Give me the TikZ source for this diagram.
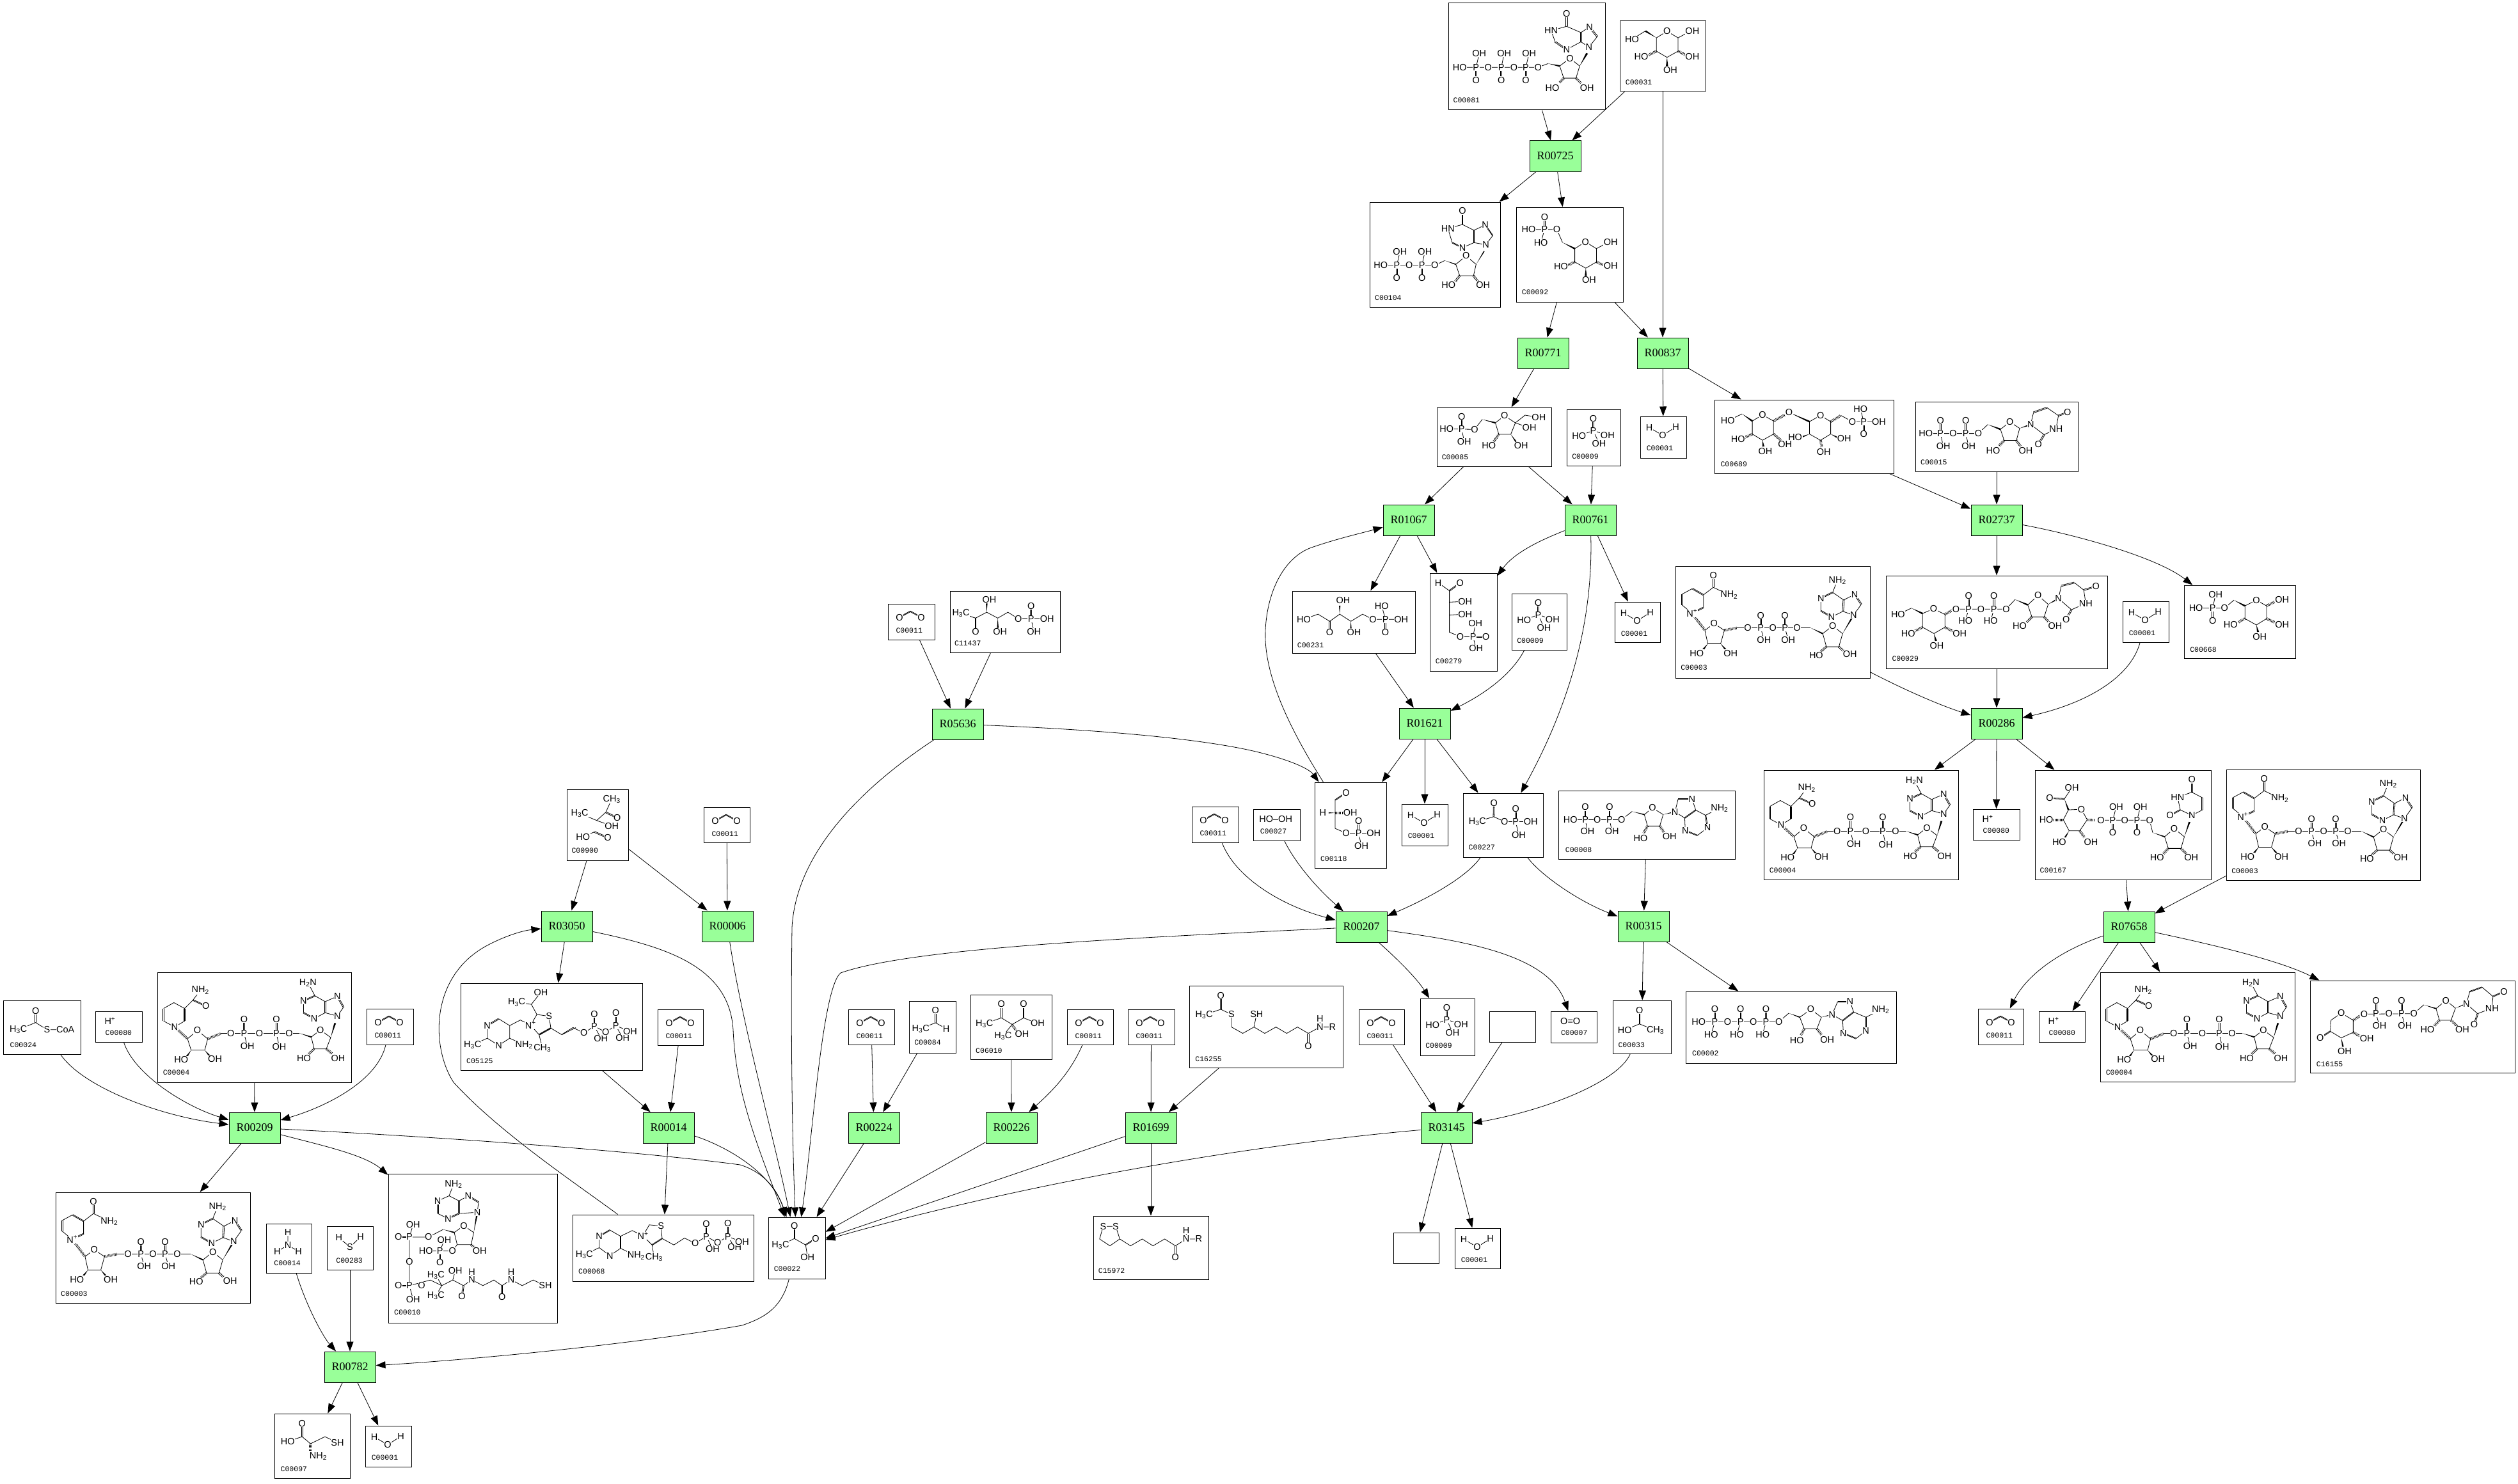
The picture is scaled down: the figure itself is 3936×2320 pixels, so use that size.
\documentclass[tikz,border=0pt]{standalone}
\usepackage{fontspec}
\setmainfont{Liberation Sans}
\newfontfamily\rxnfont{Liberation Serif}
\newfontfamily\lblfont{Liberation Mono}
\usetikzlibrary{arrows.meta,calc}
\definecolor{rgreen}{RGB}{153,255,153}
\tikzset{
 cmp/.style={draw=black,line width=1pt,fill=white,inner sep=0pt},
 rxn/.style={draw=black,line width=1pt,fill=rgreen,inner sep=0pt,minimum width=80pt,minimum height=48pt,font=\rxnfont\fontsize{18}{20}\selectfont},
 edge/.style={draw=black,line width=.8pt,-{Triangle[length=15pt,width=11pt]}},
 bond/.style={draw=black,line width=.8pt},
 atom/.style={fill=white,inner sep=.5pt,font=\fontsize{14.5}{15}\selectfont},
 lbl/.style={anchor=west,inner sep=0pt,font=\lblfont\fontsize{11.5}{12}\selectfont},
}
\newcommand\Cb[5]{\node[cmp,minimum width={#4-#2},minimum height={#5-#3}] (#1) at ({(#2+#4)/2},{(#3+#5)/2}) {};}
\newcommand\Rx[4]{\node[rxn] (#1) at (#2,#3) {#4};}
\newcommand\Ln[1]{\draw[bond] #1;}
\newcommand\Db[1]{\foreach \xa/\ya/\xb/\yb in {#1}{%
 \draw[bond] ($(\xa,\ya)!1.7pt!90:(\xb,\yb)$)--($(\xb,\yb)!1.7pt!-90:(\xa,\ya)$);
 \draw[bond] ($(\xa,\ya)!1.7pt!-90:(\xb,\yb)$)--($(\xb,\yb)!1.7pt!90:(\xa,\ya)$);}}
\newcommand\Wd[1]{\foreach \xa/\ya/\xb/\yb in {#1}{%
 \fill[black] (\xa,\ya)--($(\xb,\yb)!2.6pt!90:(\xa,\ya)$)--($(\xb,\yb)!2.6pt!-90:(\xa,\ya)$)--cycle;}}
\newcommand\Hs[1]{\foreach \xa/\ya/\xb/\yb in {#1}{%
 \draw[black,line width=4pt,dash pattern=on .8pt off 1.3pt] (\xa,\ya)--(\xb,\yb);}}
\newcommand\At[1]{\foreach \mx/\my/\mt [count=\mi] in {#1}{\node[atom] (atom\mi) at (\mx,\my) {\mt};}}
\newcommand\Lb[3]{\node[lbl] (lab#3) at (#1,#2) {#3};}
\newcommand\Mol[7]{\begin{scope}[shift={({#1-#3*#5},{#2-#4*#6})},xscale=#3,yscale=#4]#7\end{scope}}
\newcommand\HHC{H\textsubscript{3}C}
\newcommand\CHH{CH\textsubscript{3}}
\newcommand\NHH{NH\textsubscript{2}}
\newcommand\HNN{H\textsubscript{2}N}
\newcommand\NP{N\textsuperscript{+}}
% repeated molecules
\newcommand\water[2]{\Mol{#1}{#2}{.638}{.4847}{570}{1344}{%
 \Ln{(592,1380)--(625,1405)--(657,1378)}
 \At{592/1380/H,625/1405/O,657/1378/H}\Lb{585}{1447}{C00001}}}
\newcommand\cotwo[2]{\Mol{#1}{#2}{.3333}{.357}{532}{217}{%
 \Db{586/276/637/250,637/250/688/276}
 \At{586/276/O,688/276/O}\Lb{569}{333}{C00011}}}
\newcommand\hplus[2]{\Mol{#1}{#2}{.574}{.3954}{260}{256}{%
 \At{300/295/H\textsuperscript{+}}\Lb{287}{342}{C00080}}}
\newcommand\phos[2]{\Mol{#1}{#2}{.4464}{.4464}{1117}{44}{%
 \Db{1210/118/1210/76}\Ln{(1160,137)--(1210,118)--(1260,135) (1210,118)--(1230,163)}
 \At{1210/118/P,1210/76/O,1160/137/HO,1260/135/OH,1230/163/OH}\Lb{1135}{208}{C00009}}}
\newcommand\nadp[2]{\Mol{#1}{#2}{.574}{.3954}{152}{971}{%
 \Db{255/1008/255/1055,198/1060/228/1085,228/1135/197/1157,170/1125/170/1082}
 \Ln{(298,1085)--(255,1055)--(228,1085)--(228,1135) (197,1157)--(170,1125) (170,1082)--(198,1060)}
 \Hs{197/1157/232/1225}
 \Ln{(232,1225)--(257,1198)--(285,1225)--(275,1278)--(240,1278)--cycle}
 \Wd{240/1278/228/1300,275/1278/288/1300}
 \Hs{285/1225/320/1215}
 \Ln{(320,1215)--(483,1215)--(520,1215)}
 \Db{384/1215/384/1167,450/1215/450/1167}
 \Ln{(384,1215)--(393,1262) (450,1215)--(459,1262)}
 \Wd{520/1215/553/1238}
 \Ln{(553,1238)--(580,1207)--(607,1238)--(597,1290)--(563,1290)--cycle}
 \Hs{563/1290/547/1310,597/1290/612/1310}
 \Wd{607/1238/637/1165}
 \Ln{(637,1165)--(658,1122) (640,1083)--(610,1105) (608,1150)--(637,1165) (610,1105)--(580,1075)--(593,1027) (548,1098)--(548,1148) (577,1172)--(608,1150)}
 \Db{658/1122/640/1083,610/1105/608/1150,580/1075/548/1098,548/1148/577/1172}
 \At{255/1008/O,298/1085/\NHH,197/1157/\NP,257/1198/O,210/1315/HO,302/1315/OH,349/1215/O,384/1215/P,417/1215/O,450/1215/P,483/1215/O,384/1167/O,450/1167/O,393/1262/OH,459/1262/OH,580/1207/O,535/1323/HO,627/1320/OH,637/1165/N,640/1083/N,593/1027/\NHH,548/1098/N,577/1172/N}
 \Lb{166}{1373}{C00003}}}
\newcommand\nadh[2]{\Mol{#1}{#2}{.574}{.3954}{428}{102}{%
 \Db{525/212/560/235,445/295/445/245}
 \Ln{(545,173)--(525,212)--(502,245)--(502,295)--(475,318)--(445,295) (445,245)--(473,222)--(502,245)}
 \Db{502/245/502/295}
 \Hs{475/318/510/365}
 \Ln{(510,365)--(537,332)--(565,365)--(557,410)--(520,410)--cycle}
 \Wd{520/410/508/435,557/410/570/432}
 \Hs{565/365/600/345}
 \Ln{(600,343)--(815,343)}
 \Db{664/343/664/287,752/343/752/287}
 \Ln{(664,343)--(673,395) (752,343)--(760,397)}
 \Wd{815/343/847/358}
 \Ln{(847,358)--(872,330)--(900,360)--(888,405)--(855,405)--cycle}
 \Hs{855/405/840/425,888/405/905/425}
 \Wd{900/360/912/303}
 \Ln{(918,275)--(935,240) (918,197)--(885,218) (885,262)--(918,275) (885,218)--(857,195)--(838,143) (826,215)--(826,262) (855,285)--(885,262)}
 \Db{935/240/918/197,885/218/885/262,857/195/826/215,826/262/855/285}
 \At{560/235/O,545/173/\NHH,475/318/N,537/332/O,493/447/HO,585/445/OH,628/343/O,664/343/P,706/343/O,752/343/P,787/343/O,664/287/O,752/287/O,673/395/OH,760/397/OH,872/330/O,827/443/HO,920/443/OH,918/275/N,918/197/N,838/143/\HNN,826/215/N,855/285/N}
 \Lb{443}{498}{C00004}}}
\begin{document}
\begin{tikzpicture}[x=1pt,y=-1pt]
\useasboundingbox (0,0) rectangle (3936,2320);
\fill[white] (0,0) rectangle (3936,2320);
% compounds
\Cb{c081}{2264}{5}{2509}{172}\Cb{c031}{2532}{33}{2666}{143}\Cb{c104}{2141}{316}{2345}{480}
\Cb{c092}{2370}{324}{2537}{472}\Cb{c085}{2246}{637}{2425}{729}\Cb{c009a}{2449}{640}{2533}{728}
\Cb{c001a}{2564}{651}{2636}{716}\Cb{c689}{2680}{625}{2960}{740}\Cb{c015}{2994}{628}{3248}{737}
\Cb{c231}{2020}{924}{2212}{1021}\Cb{c279}{2235}{896}{2340}{1049}\Cb{c009b}{2363}{928}{2449}{1016}
\Cb{c001b}{2524}{941}{2595}{1004}\Cb{c003a}{2619}{885}{2923}{1060}\Cb{c029}{2948}{900}{3294}{1045}
\Cb{c001c}{3318}{940}{3390}{1004}\Cb{c668}{3414}{915}{3588}{1029}
\Cb{c011a}{1388}{944}{1461}{1000}\Cb{c437}{1485}{924}{1657}{1020}
\Cb{c900}{886}{1234}{982}{1345}\Cb{c011b}{1100}{1262}{1172}{1317}
\Cb{c011c}{1863}{1261}{1936}{1317}\Cb{c027}{1959}{1265}{2032}{1314}\Cb{c118}{2055}{1223}{2167}{1357}
\Cb{c001d}{2191}{1257}{2263}{1322}\Cb{c227}{2287}{1240}{2412}{1340}\Cb{c008}{2436}{1236}{2712}{1343}
\Cb{c004a}{2757}{1204}{3061}{1375}\Cb{c080a}{3084}{1265}{3157}{1313}\Cb{c167}{3181}{1204}{3456}{1375}
\Cb{c003b}{3480}{1203}{3783}{1376}
\Cb{c024}{5}{1564}{126}{1648}\Cb{c080b}{149}{1581}{222}{1629}\Cb{c004b}{246}{1520}{549}{1692}
\Cb{c011d}{573}{1577}{646}{1633}\Cb{c125}{720}{1537}{1004}{1673}\Cb{c011e}{1028}{1578}{1099}{1634}
\Cb{c011f}{1326}{1578}{1398}{1633}\Cb{c084}{1421}{1565}{1494}{1646}\Cb{c010b}{1517}{1555}{1644}{1656}
\Cb{c011g}{1668}{1578}{1740}{1633}\Cb{c011h}{1763}{1578}{1836}{1633}\Cb{c255}{1859}{1541}{2099}{1669}
\Cb{c011i}{2124}{1578}{2195}{1633}\Cb{c009c}{2220}{1561}{2305}{1650}\Cb{e1}{2328}{1581}{2400}{1629}
\Cb{c007}{2424}{1581}{2496}{1630}\Cb{c033}{2521}{1564}{2612}{1647}\Cb{c002}{2635}{1550}{2964}{1662}
\Cb{c011j}{3092}{1577}{3163}{1633}\Cb{c080c}{3187}{1581}{3259}{1629}\Cb{c004c}{3283}{1520}{3587}{1691}
\Cb{c155}{3611}{1533}{3931}{1677}
\Cb{c003c}{87}{1864}{391}{2037}\Cb{c014}{416}{1913}{487}{1990}\Cb{c283}{511}{1917}{583}{1985}
\Cb{c010}{607}{1835}{871}{2068}\Cb{c068}{895}{1899}{1178}{2003}\Cb{c022}{1201}{1903}{1290}{1999}
\Cb{c972}{1709}{1901}{1889}{2000}\Cb{e2}{2178}{1927}{2249}{1975}\Cb{c001e}{2274}{1920}{2345}{1983}
\Cb{c097}{429}{2210}{547}{2311}\Cb{c001f}{571}{2229}{643}{2293}
% reactions
\Rx{r725}{2431}{244}{R00725}\Rx{r771}{2412}{552}{R00771}\Rx{r837}{2599}{552}{R00837}
\Rx{r1067}{2202}{813}{R01067}\Rx{r761}{2486}{813}{R00761}\Rx{r2737}{3121}{813}{R02737}
\Rx{r1621}{2227}{1131}{R01621}\Rx{r286}{3121}{1131}{R00286}\Rx{r5636}{1497}{1132}{R05636}
\Rx{r207}{2128}{1449}{R00207}\Rx{r315}{2569}{1448}{R00315}\Rx{r7658}{3328}{1449}{R07658}
\Rx{r3050}{886}{1448}{R03050}\Rx{r6}{1137}{1448}{R00006}
\Rx{r209}{398}{1763}{R00209}\Rx{r14}{1045}{1763}{R00014}\Rx{r224}{1366}{1763}{R00224}
\Rx{r226}{1581}{1763}{R00226}\Rx{r1699}{1799}{1763}{R01699}\Rx{r3145}{2261}{1763}{R03145}
\Rx{r782}{547}{2137}{R00782}
% connectors
\foreach \p/\q in {c081/r725,c031/r725,r725/c104,r725/c092,c092/r771,c092/r837,r771/c085,r837/c001a,r837/c689,
 c085/r1067,c085/r761,c009a/r761,c689/r2737,c015/r2737,r2737/c029,r1067/c231,r1067/c279,r761/c001b,
 c231/r1621,r1621/c118,r1621/c001d,r1621/c227,c029/r286,r286/c004a,r286/c080a,r286/c167,
 c011a/r5636,c437/r5636,c900/r3050,c900/r6,c011b/r6,r3050/c125,c125/r14,c011e/r14,r14/c068,
 c008/r315,r315/c033,r315/c002,c003b/r7658,c167/r7658,r7658/c080c,r7658/c004c,
 c004b/r209,r209/c003c,c283/r782,r782/c097,r782/c001f,c011f/r224,c084/r224,c010b/r226,c011h/r1699,c255/r1699,r1699/c972,
 c011i/r3145,e1/r3145,r3145/e2,r3145/c001e,r224/c022,r226/c022,r1699/c022}
 {\draw[edge] (\p)--(\q);}
\draw[edge] (c031)--(r837);
\draw[edge] (c014) .. controls (478,2040) and (505,2090) .. (r782);
\draw[edge] (r2737) .. controls (3240,835) and (3370,870) .. (c668);
\draw[edge] (r761) .. controls (2420,840) and (2370,860) .. (c279);
\draw[edge] (r761) .. controls (2490,960) and (2460,1090) .. (c227);
\draw[edge] (c009b) .. controls (2360,1060) and (2310,1090) .. (r1621);
\draw[edge] (c118) .. controls (2010,1130) and (1975,1050) .. (1978,985) .. controls (1981,920) and (2010,870) .. (2050,856) .. controls (2090,842) and (2130,833) .. (r1067);
\draw[edge] (r5636) .. controls (1750,1142) and (1900,1158) .. (1975,1178) .. controls (2010,1187) and (2045,1200) .. (c118);
\draw[edge] (r5636) .. controls (1370,1216) and (1245,1320) .. (1238,1450) .. controls (1236,1600) and (1238,1780) .. (c022);
\draw[edge] (r3050) .. controls (1040,1480) and (1140,1510) .. (1146,1610) .. controls (1150,1700) and (1175,1770) .. (c022);
\draw[edge] (r6) .. controls (1160,1600) and (1210,1780) .. (c022);
\draw[edge] (r207) .. controls (1800,1465) and (1430,1480) .. (1314,1521) .. controls (1285,1545) and (1270,1780) .. (c022);
\draw[edge] (r3145) .. controls (1950,1790) and (1600,1850) .. (c022);
\draw[edge] (r209) .. controls (700,1778) and (1000,1800) .. (1157,1821) .. controls (1195,1833) and (1215,1860) .. (c022);
\draw[edge] (r14) .. controls (1130,1790) and (1205,1830) .. (c022);
\draw[edge] (c068) .. controls (900,1850) and (780,1770) .. (709,1692) .. controls (675,1640) and (670,1530) .. (758,1480) .. controls (785,1465) and (815,1455) .. (r3050);
\draw[edge] (c024) .. controls (130,1700) and (250,1745) .. (r209);
\draw[edge] (c080b) .. controls (210,1680) and (290,1730) .. (r209);
\draw[edge] (c011d) .. controls (590,1690) and (510,1730) .. (r209);
\draw[edge] (r209) .. controls (500,1790) and (570,1805) .. (c010);
\draw[edge] (c022) .. controls (1222,2045) and (1195,2060) .. (1160,2072) .. controls (1000,2100) and (750,2125) .. (r782);
\draw[edge] (c011g) .. controls (1672,1680) and (1640,1710) .. (r226);
\draw[edge] (c033) .. controls (2530,1690) and (2420,1735) .. (r3145);
\draw[edge] (c011c) .. controls (1930,1370) and (2000,1415) .. (r207);
\draw[edge] (c027) .. controls (2025,1350) and (2060,1390) .. (r207);
\draw[edge] (c227) .. controls (2290,1375) and (2220,1410) .. (r207);
\draw[edge] (c227) .. controls (2410,1370) and (2470,1410) .. (r315);
\draw[edge] (r207) .. controls (2185,1500) and (2215,1530) .. (c009c);
\draw[edge] (r207) .. controls (2280,1470) and (2420,1490) .. (c007);
\draw[edge] (c003a) .. controls (2990,1085) and (3040,1105) .. (r286);
\draw[edge] (c001c) .. controls (3330,1060) and (3260,1100) .. (r286);
\draw[edge] (r7658) .. controls (3210,1490) and (3165,1530) .. (c011j);
\draw[edge] (r7658) .. controls (3450,1475) and (3560,1500) .. (c155);
% repeated molecules
\water{2564}{651}\water{2524}{941}\water{3318}{940}\water{2191}{1257}\water{2274}{1920}\water{571}{2229}
\cotwo{1388}{944}\cotwo{1100}{1262}\cotwo{1863}{1261}\cotwo{573}{1577}\cotwo{1028}{1578}\cotwo{1326}{1578}
\cotwo{1668}{1578}\cotwo{1763}{1578}\cotwo{2124}{1578}\cotwo{3092}{1577}
\hplus{3084}{1265}\hplus{149}{1581}\hplus{3187}{1581}
\phos{2449}{640}\phos{2363}{928}\phos{2220}{1561}
\nadp{2619}{885}\nadp{3480}{1203}\nadp{87}{1864}
\nadh{2757}{1204}\nadh{246}{1520}\nadh{3283}{1520}
% C00081
\Mol{2200}{0}{.638}{.4847}{0}{0}{%
 \Ln{(128,217)--(320,217)--(345,205) (168,217)--(176,173) (230,217)--(237,173) (290,217)--(298,173)}
 \Db{168/217/168/258,230/217/230/258,290/217/290/258}
 \Wd{345/205/373/213}
 \Ln{(373,213)--(398,188)--(422,213)--(413,252)--(383,252)--cycle}
 \Hs{383/252/372/268,413/252/425/268}
 \Wd{422/213/440/172}
 \Ln{(390,85)--(352,99) (362,135)--(352,99) (390,160)--(425,135) (425,135)--(445,152)--(465,118) (446,87)--(425,105) (425,105)--(390,85)}
 \Db{390/44/390/85,362/135/390/160,425/135/425/105,465/118/446/87}
 \At{128/217/HO,168/217/P,198/217/O,230/217/P,261/217/O,290/217/P,320/217/O,176/173/OH,237/173/OH,298/173/OH,168/258/O,230/258/O,290/258/O,398/188/O,355/283/HO,440/283/OH,445/152/N,446/87/N,390/44/O,352/99/HN,390/160/N}
 \Lb{112}{324}{C00081}}
% C00031
\Mol{2200}{0}{.638}{.4847}{0}{0}{%
 \Ln{(636,101)--(663,122)--(663,165)--(636,185)--(610,165)--(610,122)--cycle}
 \Wd{610/122/583/100}\Ln{(583,100)--(550,127) (663,122)--(683,108)}
 \Hs{610/165/590/178,663/165/683/178}\Wd{636/185/636/212}
 \At{636/101/O,550/127/HO,698/101/OH,573/183/HO,698/183/OH,644/225/OH}\Lb{534}{266}{C00031}}
% C00104
\Mol{2130}{300}{.3333}{.3333}{0}{0}{%
 \Ln{(85,345)--(338,345)--(385,322) (160,345)--(175,280) (278,345)--(292,280)}
 \Db{160/345/160/403,278/345/278/403}
 \Wd{385/322/437/340}
 \Ln{(437,340)--(485,300)--(532,340)--(520,393)--(455,393)--cycle}
 \Hs{455/393/435/420,520/393/540/420}\Wd{532/340/570/278}
 \Ln{(468,153)--(400,172)--(420,238) (468,262)--(522,238)--(578,248)--(610,205) (575,155)--(522,180)--(468,153)}
 \Db{468/90/468/153,420/238/468/262,522/238/522/180,610/205/575/155}
 \At{85/345/HO,160/345/P,218/345/O,278/345/P,338/345/O,175/280/OH,292/280/OH,160/403/O,278/403/O,485/300/O,403/437/HO,565/437/OH,578/248/N,575/155/N,468/90/O,400/172/HN,468/262/N}
 \Lb{57}{498}{C00104}}
% C00092
\Mol{2200}{0}{.638}{.4847}{0}{0}{%
 \Ln{(297,740)--(366,740)--(380,782) (336,740)--(327,782)}\Db{336/740/336/700}
 \Wd{380/782/410/802}
 \Ln{(436,780)--(463,802)--(463,845)--(437,865)--(410,845)--(410,802)--cycle (463,802)--(480,790)}
 \Hs{410/845/392/856,463/845/482/856}\Wd{437/865/437/890}
 \At{297/740/HO,336/740/P,366/740/O,336/700/O,327/782/HO,436/780/O,498/780/OH,376/860/HO,498/858/OH,445/902/OH}\Lb{280}{943}{C00092}}
% C00085, C00231, C00279
\Mol{1950}{620}{.4464}{.4464}{0}{0}{%
 \Ln{(697,113)--(795,115)--(822,80) (750,113)--(759,158)}\Db{750/113/750/70}
 \Wd{822/80/868/92}
 \Ln{(868,92)--(900,67)--(938,92)--(922,132)--(880,132)--cycle (938,92)--(972,65)--(1020,73) (938,92)--(987,109)}
 \Hs{880/132/862/158}\Wd{922/132/940/158}
 \At{697/113/HO,750/113/P,795/115/O,750/70/O,759/158/OH,900/67/O,1020/73/OH,987/109/OH,845/172/HO,958/172/OH}\Lb{680}{213}{C00085}
 \Ln{(197,780)--(247,762)--(288,787)--(323,762)--(362,787)--(403,762)--(439,780)--(538,780) (483,780)--(470,733)}
 \Db{288/787/288/825,483/780/483/825}\Wd{323/762/323/732,362/787/362/812}
 \At{197/780/HO,335/713/OH,288/825/O,373/825/OH,439/780/O,483/780/P,538/780/OH,470/733/HO,483/825/O}\Lb{174}{870}{C00231}
 \Ln{(668,652)--(707,680)--(707,825)--(745,841)--(800,841) (707,720)--(762,717) (707,765)--(762,762) (790,841)--(798,795) (790,841)--(800,882)}
 \Db{707/680/744/653,790/841/835/841}
 \At{668/652/H,744/653/O,762/717/OH,762/762/OH,745/841/O,790/841/P,835/841/O,798/795/OH,800/882/OH}\Lb{658}{927}{C00279}}
% C00118, C00027, C00227
\Mol{1750}{1180}{.4464}{.3337}{0}{0}{%
 \Ln{(755,212)--(755,345)--(793,367)--(890,367) (837,367)--(847,427)}\Db{755/212/793/178,837/367/837/310}
 \Wd{755/272/732/272}\Hs{755/272/780/272}
 \At{793/178/O,712/270/H,808/270/OH,793/367/O,837/367/P,890/367/OH,837/310/O,847/427/OH}\Lb{703}{487}{C00118}
 \At{547/300/HO--OH}\Lb{492}{358}{C00027}
 \Ln{(1253,313)--(1310,290)--(1348,313)--(1440,313) (1387,313)--(1398,375)}\Db{1311/225/1310/290,1387/252/1387/313}
 \At{1253/313/\HHC,1311/225/O,1348/313/O,1387/313/P,1440/313/OH,1387/252/O,1398/375/OH}\Lb{1222}{435}{C00227}}
% ADP, ATP, acetate, O2
\Mol{2400}{1150}{.3827}{.3508}{0}{0}{%
 \Ln{(143,375)--(352,375)--(395,338) (204,375)--(213,427) (303,375)--(313,427)}\Db{204/319/204/375,303/319/303/375}
 \Wd{395/338/445/352}
 \Ln{(445,352)--(478,322)--(522,352)--(508,403)--(458,403)--cycle}
 \Hs{458/403/442/435,508/403/525/430}\Wd{522/352/568/340}
 \Ln{(570,340)--(583,283) (640,283)--(655,332) (610,367)--(570,340) (655,332)--(695,355)--(752,323) (703,410)--(662,445) (612,423)--(610,367)}
 \Db{583/283/640/283,655/332/610/367,695/355/703/410,662/445/612/423}
 \At{143/375/HO,204/375/P,253/375/O,303/375/P,352/375/O,204/319/O,303/319/O,213/427/OH,313/427/OH,478/322/O,430/458/HO,548/448/OH,570/340/N,640/283/N,703/410/N,612/423/N,752/323/\NHH}\Lb{122}{510}{C00008}
 \Ln{(667,1275)--(995,1275)--(1035,1237) (733,1275)--(718,1332) (838,1275)--(823,1332) (942,1275)--(928,1332)}
 \Db{733/1218/733/1275,838/1218/838/1275,942/1218/942/1275}
 \Wd{1035/1237/1080/1255}
 \Ln{(1080,1255)--(1125,1220)--(1168,1255)--(1150,1307)--(1098,1307)--cycle}
 \Hs{1098/1307/1085/1335,1150/1307/1170/1335}\Wd{1168/1255/1212/1243}
 \Ln{(1212,1243)--(1235,1185) (1285,1185)--(1300,1232) (1255,1270)--(1212,1243) (1300,1232)--(1350,1255)--(1410,1222) (1350,1315)--(1310,1350) (1258,1327)--(1255,1270)}
 \Db{1235/1185/1285/1185,1300/1232/1255/1270,1350/1255/1350/1315,1310/1350/1258/1327}
 \At{667/1275/HO,733/1275/P,785/1275/O,838/1275/P,890/1275/O,942/1275/P,995/1275/O,733/1218/O,838/1218/O,942/1218/O,718/1332/HO,823/1332/HO,928/1332/HO,1125/1220/O,1068/1358/HO,1192/1355/OH,1212/1243/N,1285/1185/N,1350/1315/N,1258/1327/N,1410/1222/\NHH}\Lb{640}{1417}{C00002}
 \Ln{(365,1312)--(425,1285)--(490,1313)}\Db{425/1225/425/1285}
 \At{425/1225/O,365/1312/HO,490/1313/\CHH}\Lb{338}{1378}{C00033}
 \At{143/1272/O=O}\Lb{104}{1326}{C00007}}
% C00024, C00014, C00283, C00010, C05125 left
\Mol{0}{1480}{.574}{.3954}{0}{0}{%
 \Ln{(50,328)--(97,300)--(128,328)--(178,328)}\Db{97/253/97/300}
 \At{97/253/O,50/328/\HHC,128/328/S,178/328/CoA}\Lb{27}{388}{C00024}
 \Ln{(784,1130)--(784,1180)--(755,1205) (784,1180)--(813,1205)}
 \At{784/1130/H,784/1180/N,755/1205/H,813/1205/H}\Lb{746}{1252}{C00014}
 \Ln{(923,1150)--(953,1188)--(982,1147)}
 \At{923/1150/H,953/1188/S,982/1147/H}\Lb{915}{1240}{C00283}
 \Ln{(1235,940)--(1223,985)--(1192,1005) (1192,1055)--(1220,1075) (1250,1055)--(1300,1050)--(1303,1010) (1275,985)--(1250,1005)--(1223,985)}
 \Db{1192/1005/1192/1055,1220/1075/1250/1055,1250/1055/1250/1005,1303/1010/1275/985}
 \Wd{1290/1130/1300/1050}
 \Ln{(1290,1130)--(1263,1103)--(1237,1130)--(1245,1178)--(1283,1178)--cycle}
 \Wd{1207/1118/1237/1130}
 \Ln{(1207,1118)--(1167,1148)--(1115,1148)--(1125,1098) (1115,1148)--(1115,1340)--(1172,1318) (1115,1340)--(1125,1395)}
 \Db{1085/1148/1115/1148,1085/1340/1115/1340}
 \Ln{(1245,1178)--(1232,1203)--(1160,1203) (1198,1203)--(1210,1160)}\Db{1198/1203/1198/1248}
 \Hs{1283/1178/1295/1195}
 \Ln{(1172,1318)--(1203,1340)--(1233,1318)--(1262,1340)--(1285,1317)--(1315,1340)--(1345,1318)--(1367,1340)--(1392,1317)--(1422,1340)--(1452,1318)--(1485,1340) (1203,1340)--(1187,1298) (1203,1340)--(1187,1380) (1233,1318)--(1240,1280) (1285,1317)--(1285,1287) (1392,1317)--(1392,1287)}
 \Db{1262/1340/1258/1383,1367/1340/1367/1385}
 \At{1235/940/\NHH,1192/1005/N,1220/1075/N,1275/985/N,1300/1050/N,1263/1103/O,1167/1148/O,1115/1148/P,1085/1148/O,1125/1098/OH,1115/1245/O,1115/1340/P,1085/1340/O,1125/1395/OH,1148/1340/O,1232/1203/O,1198/1203/P,1210/1160/OH,1160/1203/HO,1198/1248/O,1306/1203/OH,1187/1298/\HHC,1187/1380/\HHC,1240/1280/OH,1258/1383/O,1285/1317/N,1285/1287/H,1367/1385/O,1392/1317/N,1392/1287/H,1485/1340/SH}\Lb{1073}{1447}{C00010}
 \Ln{(1287,388)--(1327,362)--(1327,312) (1358,285)--(1388,312)--(1388,362)--(1358,390)--(1327,362) (1388,362)--(1427,388) (1388,312)--(1417,290)--(1445,310)--(1462,268)--(1495,275)--(1500,322)--(1468,348)--(1445,310) (1468,348)--(1477,400) (1462,268)--(1447,228)--(1473,180) (1447,228)--(1407,220) (1500,322)--(1530,348)--(1568,320)}
 \Db{1327/312/1358/285,1500/322/1468/348}
 \At{1287/388/\HHC,1327/312/N,1358/390/N,1427/388/\NHH,1445/310/\NP,1495/275/S,1477/400/\CHH,1473/180/OH,1407/220/\HHC}\Lb{1270}{453}{C05125}}
% C05125 right, C00068, C00022
\Mol{850}{1500}{.3333}{.357}{0}{0}{%
 \Ln{(85,328)--(137,298)--(188,322)--(237,292)--(290,318)--(338,290)--(405,315) (237,292)--(268,345) (338,290)--(370,343)}
 \Db{237/240/237/292,338/235/338/290}
 \At{188/322/O,237/292/P,237/240/O,268/345/OH,290/318/O,338/290/P,338/235/O,370/343/OH,405/315/OH}
 \Ln{(190,1293)--(260,1262)--(260,1212) (310,1185)--(360,1212) (360,1265)--(310,1297)--(260,1262) (360,1265)--(433,1297) (360,1212)--(415,1187)--(465,1210)--(495,1162)--(550,1167)--(555,1222) (508,1250)--(465,1210) (508,1250)--(517,1303) (555,1222)--(610,1250)--(660,1220)--(710,1243)--(762,1213)--(815,1240)--(863,1213)--(930,1237) (762,1213)--(792,1267) (863,1213)--(895,1260)}
 \Db{260/1212/310/1185,360/1212/360/1265,555/1222/508/1250,762/1158/762/1213,863/1155/863/1213}
 \At{190/1293/\HHC,260/1212/N,310/1297/N,433/1297/\NHH,465/1210/\NP,550/1167/S,517/1303/\CHH,710/1243/O,762/1213/P,762/1158/O,792/1267/OH,815/1240/O,863/1213/P,863/1155/O,895/1260/OH,930/1237/OH}\Lb{162}{1367}{C00068}
 \Ln{(1115,1250)--(1175,1222)--(1228,1250)--(1237,1303)}\Db{1175/1166/1175/1222,1228/1250/1275/1222}
 \At{1175/1166/O,1110/1250/\HHC,1275/1222/O,1237/1303/OH}\Lb{1079}{1355}{C00022}}
% C00097
\Mol{80}{1800}{.7015}{.3316}{0}{0}{%
 \Ln{(527,1368)--(559,1345)--(578,1378)--(610,1345)--(638,1373)}\Db{559/1282/559/1345}\Hs{578/1378/578/1420}
 \At{559/1282/O,527/1368/HO,638/1373/SH,595/1437/\NHH}\Lb{511}{1497}{C00097}}
% C00900, C11437, C00084, C06010
\Mol{850}{900}{.5102}{.5102}{0}{0}{%
 \Ln{(110,728)--(162,750)--(190,725)--(208,685) (162,750)--(208,767) (120,801)--(155,785)}
 \Db{190/725/225/742,155/785/196/803}
 \At{208/685/\CHH,110/728/\HHC,225/742/O,208/767/OH,120/801/HO,196/803/O}\Lb{85}{843}{C00900}
 \Ln{(1278,115)--(1323,130)--(1357,112)--(1391,130)--(1422,112)--(1454,132)--(1542,132) (1493,132)--(1502,172)}
 \Db{1323/130/1323/172,1493/93/1493/132}\Wd{1357/112/1357/85,1391/130/1391/160}
 \At{1278/115/\HHC,1323/172/O,1365/73/OH,1398/172/OH,1454/132/O,1493/132/P,1493/93/O,1542/132/OH,1502/172/OH}\Lb{1258}{208}{C11437}
 \Ln{(1155,1388)--(1200,1370)--(1233,1388)}\Db{1200/1332/1200/1370}
 \At{1155/1388/\HHC,1200/1332/O,1233/1388/H}\Lb{1135}{1431}{C00084}
 \Ln{(1350,1373)--(1402,1355)--(1435,1375)--(1470,1355)--(1513,1372) (1435,1375)--(1407,1410)}
 \Db{1402/1313/1402/1355,1470/1313/1470/1355}\Hs{1435/1375/1447/1395}
 \At{1350/1373/\HHC,1402/1313/O,1470/1313/O,1513/1372/OH,1407/1410/\HHC,1465/1405/OH}\Lb{1323}{1455}{C06010}}
% C16255, C15972
\Mol{1300}{1400}{.7015}{.3954}{0}{0}{%
 \Ln{(830,472)--(867,450)--(891,470)--(891,520)--(916,545)--(941,520)--(965,545)--(990,520)--(1014,545)--(1038,520)--(1062,545)--(1088,520)--(1116,520) (941,520)--(947,468) (1088,520)--(1088,487)}
 \Db{867/395/867/450,1062/595/1062/545}
 \At{830/472/\HHC,867/395/O,891/470/S,947/468/SH,1062/595/O,1088/520/N,1088/487/H,1116/520/R}\Lb{810}{646}{C16255}
 \Ln{(605,1308)--(633,1308)--(642,1358)--(620,1385)--(597,1358)--(605,1308) (642,1358)--(666,1385)--(692,1358)--(716,1385)--(742,1358)--(766,1385)--(790,1358)--(818,1358) (790,1358)--(790,1325)}
 \Db{766/1430/766/1385}
 \At{605/1308/S,633/1308/S,766/1430/O,790/1358/N,790/1325/H,818/1358/R}\Lb{594}{1483}{C15972}}
% C00689
\Mol{2200}{0}{.638}{.4847}{0}{0}{%
 \Ln{(785,1357)--(820,1335)}\Wd{820/1335/845/1358}
 \Ln{(845,1358)--(870,1338)--(897,1358)--(897,1400)--(870,1420)--(845,1400)--cycle}
 \Hs{845/1400/825/1412,897/1400/915/1420,897/1358/925/1338}\Wd{870/1420/872/1440,935/1330/985/1360}
 \Ln{(985,1360)--(1012,1340)--(1037,1360)--(1037,1400)--(1012,1420)--(985,1400)--cycle}
 \Wd{985/1400/965/1410,1037/1400/1055/1412}\Hs{1012/1420/1015/1442,1037/1360/1062/1340}
 \Ln{(1062,1340)--(1090,1360)--(1155,1360) (1118,1360)--(1110,1320)}\Db{1118/1360/1118/1400}
 \At{785/1357/HO,870/1338/O,810/1417/HO,877/1455/OH,925/1433/OH,935/1330/O,1012/1340/O,950/1410/HO,1020/1457/OH,1070/1415/OH,1090/1360/O,1118/1360/P,1110/1320/HO,1155/1360/OH,1118/1400/O}\Lb{767}{1498}{C00689}}
% UDP family
\Mol{2600}{600}{.638}{.4974}{0}{0}{%
 \Ln{(643,156)--(772,156)--(795,128) (679,156)--(686,197) (741,156)--(748,197)}\Db{679/116/679/156,741/116/741/156}
 \Wd{795/128/826/143}
 \Ln{(826,143)--(849,120)--(873,140)--(865,178)--(835,178)--cycle}
 \Hs{835/178/822/196,865/178/875/196}\Wd{873/140/900/128}
 \Ln{(900,128)--(907,90) (940,75)--(968,100)--(962,142)--(933,160)--(900,128)}
 \Db{907/90/940/75,968/100/990/90,933/160/919/190}
 \At{643/156/HO,679/156/P,710/156/O,741/156/P,772/156/O,679/116/O,741/116/O,686/197/OH,748/197/OH,849/120/O,808/211/HO,888/211/OH,900/128/N,990/90/O,962/142/NH,919/190/O}\Lb{630}{247}{C00015}
 \Ln{(575,725)--(608,705)}\Wd{608/705/635/722}
 \Ln{(635,722)--(662,707)--(690,725)--(690,765)--(663,785)--(635,765)--cycle}
 \Hs{690/725/707/712,635/765/615/778,690/765/710/778}\Wd{663/785/668/808}
 \Ln{(717,708)--(840,708)--(862,678) (748,708)--(740,745) (810,708)--(802,745)}\Db{748/666/748/708,810/666/810/708}
 \Wd{862/678/893/695}
 \Ln{(893,695)--(918,665)--(943,693)--(933,733)--(903,733)--cycle}
 \Hs{903/733/890/750,933/733/945/750}\Wd{943/693/968/675}
 \Ln{(968,675)--(975,635) (1007,625)--(1030,648)--(1035,690)--(1000,710)--(968,675)}
 \Db{975/635/1007/625,1030/648/1060/637,1000/710/987/740}
 \At{575/725/HO,662/707/O,600/785/HO,726/785/OH,670/823/OH,717/708/O,748/708/P,778/708/O,810/708/P,840/708/O,748/666/O,810/666/O,740/745/HO,802/745/HO,918/665/O,873/760/HO,960/760/OH,968/675/N,1060/637/O,1035/690/NH,987/740/O}\Lb{560}{864}{C00029}
 \Wd{1398/680/1425/698}
 \Ln{(1453,680)--(1478,698)--(1478,738)--(1453,758)--(1425,738)--(1425,698)--cycle (1398,680)--(1375,705)--(1305,705) (1346,705)--(1353,662)}
 \Db{1346/705/1346/745}
 \Hs{1478/698/1498/685,1425/738/1408/750,1478/738/1498/750}\Wd{1453/758/1457/780}
 \At{1453/680/O,1375/705/O,1346/705/P,1305/705/HO,1353/662/OH,1346/745/O,1516/678/OH,1390/757/HO,1516/757/OH,1461/796/OH}\Lb{1290}{836}{C00668}}
% C00167, C16155
\Mol{3100}{1180}{.533}{.3444}{0}{0}{%
 \Ln{(260,150)--(238,200)}\Db{238/200/195/197}\Wd{238/200/250/250}
 \Ln{(250,250)--(288,247)--(305,295)--(283,345)--(252,345)--(235,295)--cycle}
 \Hs{235/295/205/295,305/295/328/297,283/345/297/375}\Wd{252/345/240/375}
 \Ln{(345,297)--(488,297)--(497,353) (380,297)--(390,237) (451,297)--(461,237)}\Db{380/297/380/353,451/297/451/353}
 \Wd{497/353/532/372}
 \Ln{(532,372)--(560,335)--(590,372)--(580,425)--(543,425)--cycle}
 \Hs{543/425/528/450,580/425/596/450}\Wd{590/372/605/305}
 \Ln{(612,275)--(578,250)--(570,192)--(612,170)--(643,195) (643,250)--(612,275)}
 \Db{578/250/548/275,612/170/612/113,643/195/643/250}
 \At{260/150/OH,195/197/O,288/247/O,185/295/HO,223/395/HO,316/395/OH,345/297/O,380/297/P,415/297/O,451/297/P,488/297/O,380/353/O,451/353/O,390/237/OH,461/237/OH,560/335/O,510/467/HO,610/467/OH,612/275/N,548/275/O,570/192/HN,612/113/O}\Lb{166}{526}{C00167}
 \Ln{(1050,1172)--(1085,1205)--(1085,1260)--(1050,1285)--(1018,1255)--(1020,1205)--cycle}
 \Db{1018/1255/988/1285}
 \Hs{1085/1205/1105/1185,1085/1260/1108/1280}\Wd{1050/1285/1055/1325}
 \Ln{(1117,1177)--(1263,1175)--(1292,1135) (1152,1175)--(1162,1230) (1227,1175)--(1237,1230)}
 \Db{1152/1115/1152/1175,1227/1115/1227/1175}
 \Wd{1292/1135/1328/1152}
 \Ln{(1328,1152)--(1357,1115)--(1385,1150)--(1372,1205)--(1338,1205)--cycle}
 \Hs{1338/1205/1322/1232,1372/1205/1390/1232}\Wd{1385/1150/1417/1130}
 \Ln{(1417,1130)--(1427,1075) (1463,1055)--(1495,1097)--(1492,1150)--(1450,1175)--(1417,1130)}
 \Db{1427/1075/1463/1055,1495/1097/1527/1075,1450/1175/1440/1225}
 \At{1050/1172/O,988/1285/O,1125/1287/OH,1060/1345/OH,1117/1177/O,1152/1175/P,1190/1175/O,1227/1175/P,1263/1175/O,1152/1115/O,1227/1115/O,1162/1230/OH,1237/1230/OH,1357/1115/O,1303/1248/HO,1405/1248/OH,1417/1130/N,1527/1075/O,1492/1150/NH,1440/1225/O}\Lb{977}{1403}{C16155}}
\end{tikzpicture}
\end{document}
